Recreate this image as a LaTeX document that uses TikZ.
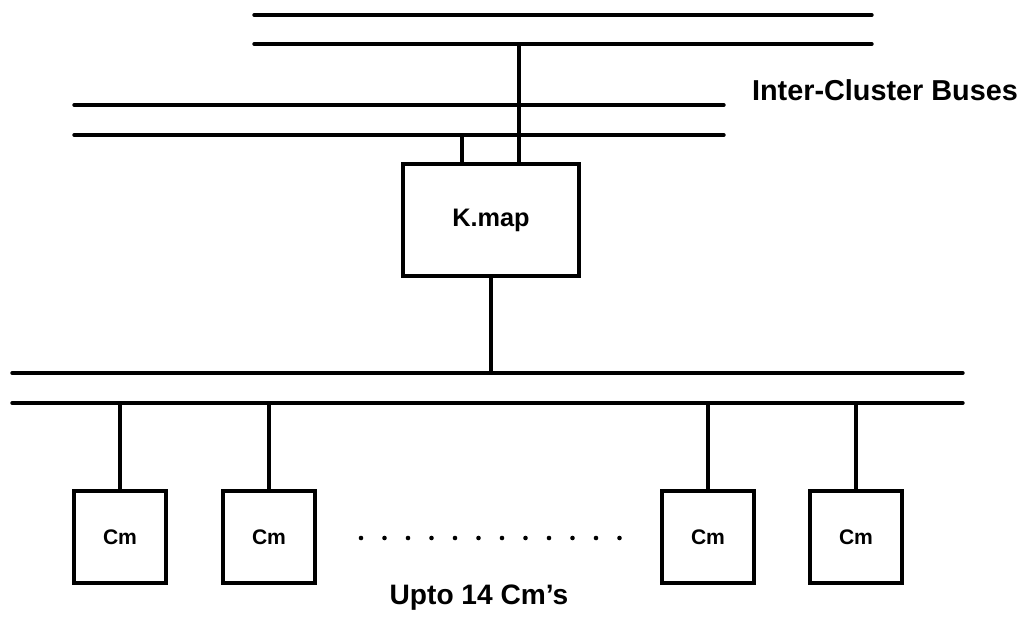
\documentclass[tikz,border=0pt]{standalone}
\usepackage{fontspec}
\setmainfont{Liberation Sans}
\usepackage{tikz}
\usetikzlibrary{positioning,calc}
\tikzset{
  busln/.style={line width=2.4pt, line cap=round},
  linkln/.style={line width=2.2pt},
  unitbox/.style={draw, line width=2.2pt, font=\bfseries\fontsize{18}{20}\selectfont,
    minimum width=4.4cm, minimum height=2.8cm},
  cmbox/.style={draw, line width=2.2pt, font=\bfseries\fontsize{15}{17}\selectfont,
    minimum width=2.3cm, minimum height=2.3cm},
  lbl/.style={font=\bfseries\fontsize{20.5}{23}\selectfont},
}

\begin{document}
\begin{tikzpicture}[x=0.025cm, y=-0.025cm]
    \useasboundingbox (0,0) rectangle (1021,621);
    % inter-cluster buses
    \coordinate (ba1w) at (254,15);  \coordinate (ba1e) at (872,15);
    \coordinate (ba2w) at (254,44);  \coordinate (ba2e) at (872,44);
    \coordinate (bb1w) at (74,105);  \coordinate (bb1e) at (724,105);
    \coordinate (bb2w) at (74,135);  \coordinate (bb2e) at (724,135);
    \draw[busln] (ba1w) -- (ba1e);
    \draw[busln] (ba2w) -- (ba2e);
    \draw[busln] (bb1w) -- (bb1e);
    \draw[busln] (bb2w) -- (bb2e);
    \node[lbl] (icb) at (885,90) {Inter-Cluster Buses};
    % cluster bus
    \coordinate (bc1w) at (12,373);  \coordinate (bc1e) at (963,373);
    \coordinate (bc2w) at (12,403);  \coordinate (bc2e) at (963,403);
    \draw[busln] (bc1w) -- (bc1e);
    \draw[busln] (bc2w) -- (bc2e);
    % K.map and its links
    \node[unitbox] (kmap) at (491,220) {K.map};
    \draw[linkln] (kmap.north -| 519,0) -- (ba2w -| 519,0);
    \draw[linkln] (kmap.north -| 462,0) -- (bb2w -| 462,0);
    \draw[linkln] (kmap.south) -- (kmap.south |- bc1w);
    % computer modules
    \node[cmbox] (cm1) at (120,537) {Cm};
    \node[cmbox] (cm2) at (269,537) {Cm};
    \node[cmbox] (cm3) at (708,537) {Cm};
    \node[cmbox] (cm4) at (856,537) {Cm};
    \foreach \m in {cm1,cm2,cm3,cm4}
      \draw[linkln] (\m.north) -- (\m.north |- bc2w);
    \foreach \i in {0,...,11}
      \fill (361+\i*23.5,538) circle (2.3);
    \node[lbl, font=\bfseries\fontsize{20}{22}\selectfont] (upto) at (479,598) {Upto 14 Cm's};
\end{tikzpicture}
\end{document}
